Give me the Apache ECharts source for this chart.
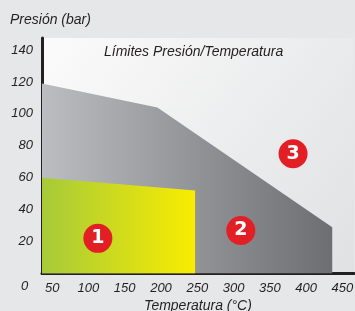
<!DOCTYPE html>
<html>
<head>
<meta charset="utf-8">
<script src="https://cdn.jsdelivr.net/npm/echarts@6/dist/echarts.min.js"></script>
<style>
  html, body { margin: 0; padding: 0; background: #e6e7e9; }
  #chart { width: 355px; height: 311px; }
</style>
</head>
<body>
<div id="chart"></div>
<script>
// limite zona 2 (gris) y zona 1 (amarilla): [temperatura, presion]
var zona2 = [[36, 119], [195, 104], [436, 29]];
var zona1 = [[36, 60], [247, 52]];
// marcadores numerados
var marcas = [[113, 22], [310, 27], [382, 75]];
var marcasTxt = ['1', '2', '3'];
var xTicks = [50, 100, 150, 200, 250, 300, 350, 400, 450];

var font = 'Liberation Sans';
var myChart = echarts.init(document.getElementById('chart'));

var option = {
  backgroundColor: '#e6e7e9',
  animation: false,
  title: {
    text: 'Límites Presión/Temperatura',
    left: 104,
    top: 45,
    padding: 0,
    textStyle: {
      fontFamily: font,
      fontStyle: 'italic',
      fontWeight: 'normal',
      fontSize: 14,
      color: '#231f20'
    }
  },
  grid: {
    left: 42,
    right: 1,
    top: 38,
    bottom: 37.5,
    outerBoundsMode: 'none',
    containLabel: false,
    show: true,
    borderWidth: 0,
    backgroundColor: new echarts.graphic.LinearGradient(0, 0, 1, 1, [
      {offset: 0, color: '#fbfbfb'},
      {offset: 1, color: '#e0e1e3'}
    ])
  },
  xAxis: {
    type: 'value',
    min: 36,
    max: 466,
    name: 'Temperatura (°C)',
    nameLocation: 'middle',
    nameGap: 23,
    nameTextStyle: {
      fontFamily: font,
      fontStyle: 'italic',
      fontSize: 14,
      color: '#231f20'
    },
    axisLine: {show: true, lineStyle: {color: '#231f20', width: 3}},
    axisTick: {show: false},
    splitLine: {show: false},
    axisLabel: {
      customValues: xTicks,
      margin: 8,
      fontFamily: font,
      fontStyle: 'italic',
      fontSize: 13,
      color: '#231f20'
    }
  },
  yAxis: {
    type: 'value',
    min: 0,
    max: 147.5,
    interval: 20,
    axisLine: {show: true, lineStyle: {color: '#231f20', width: 3}},
    axisTick: {show: false},
    splitLine: {show: false},
    axisLabel: {
      showMinLabel: false,
      showMaxLabel: false,
      margin: 9,
      fontFamily: font,
      fontStyle: 'italic',
      fontSize: 13,
      color: '#231f20'
    }
  },
  graphic: [
    {
      type: 'text',
      left: 10,
      top: 13,
      style: {
        text: 'Presión (bar)',
        font: 'italic 14px ' + font,
        fill: '#231f20'
      }
    },
    {
      type: 'text',
      left: 21,
      top: 280,
      style: {
        text: '0',
        font: 'italic 13px ' + font,
        fill: '#231f20'
      }
    }
  ],
  series: [
    {
      type: 'line',
      data: zona2,
      showSymbol: false,
      lineStyle: {width: 0},
      areaStyle: {
        opacity: 1,
        color: new echarts.graphic.LinearGradient(0, 0, 1, 0, [
          {offset: 0, color: '#bbbdc0'},
          {offset: 1, color: '#6c6e71'}
        ])
      },
      z: 1
    },
    {
      type: 'line',
      data: zona1,
      showSymbol: false,
      lineStyle: {width: 0},
      areaStyle: {
        opacity: 1,
        color: new echarts.graphic.LinearGradient(0, 0, 1, 0, [
          {offset: 0, color: '#a6ca3a'},
          {offset: 1, color: '#f9ec00'}
        ])
      },
      z: 2
    },
    {
      type: 'scatter',
      data: marcas,
      symbol: 'circle',
      symbolSize: 29,
      itemStyle: {color: '#e31f26', opacity: 1},
      label: {
        show: true,
        position: 'inside',
        formatter: function (p) { return marcasTxt[p.dataIndex]; },
        fontFamily: 'DejaVu Sans',
        fontWeight: 'bold',
        fontSize: 19,
        color: '#ffffff'
      },
      z: 5
    }
  ]
};
myChart.setOption(option);
</script>
</body>
</html>
